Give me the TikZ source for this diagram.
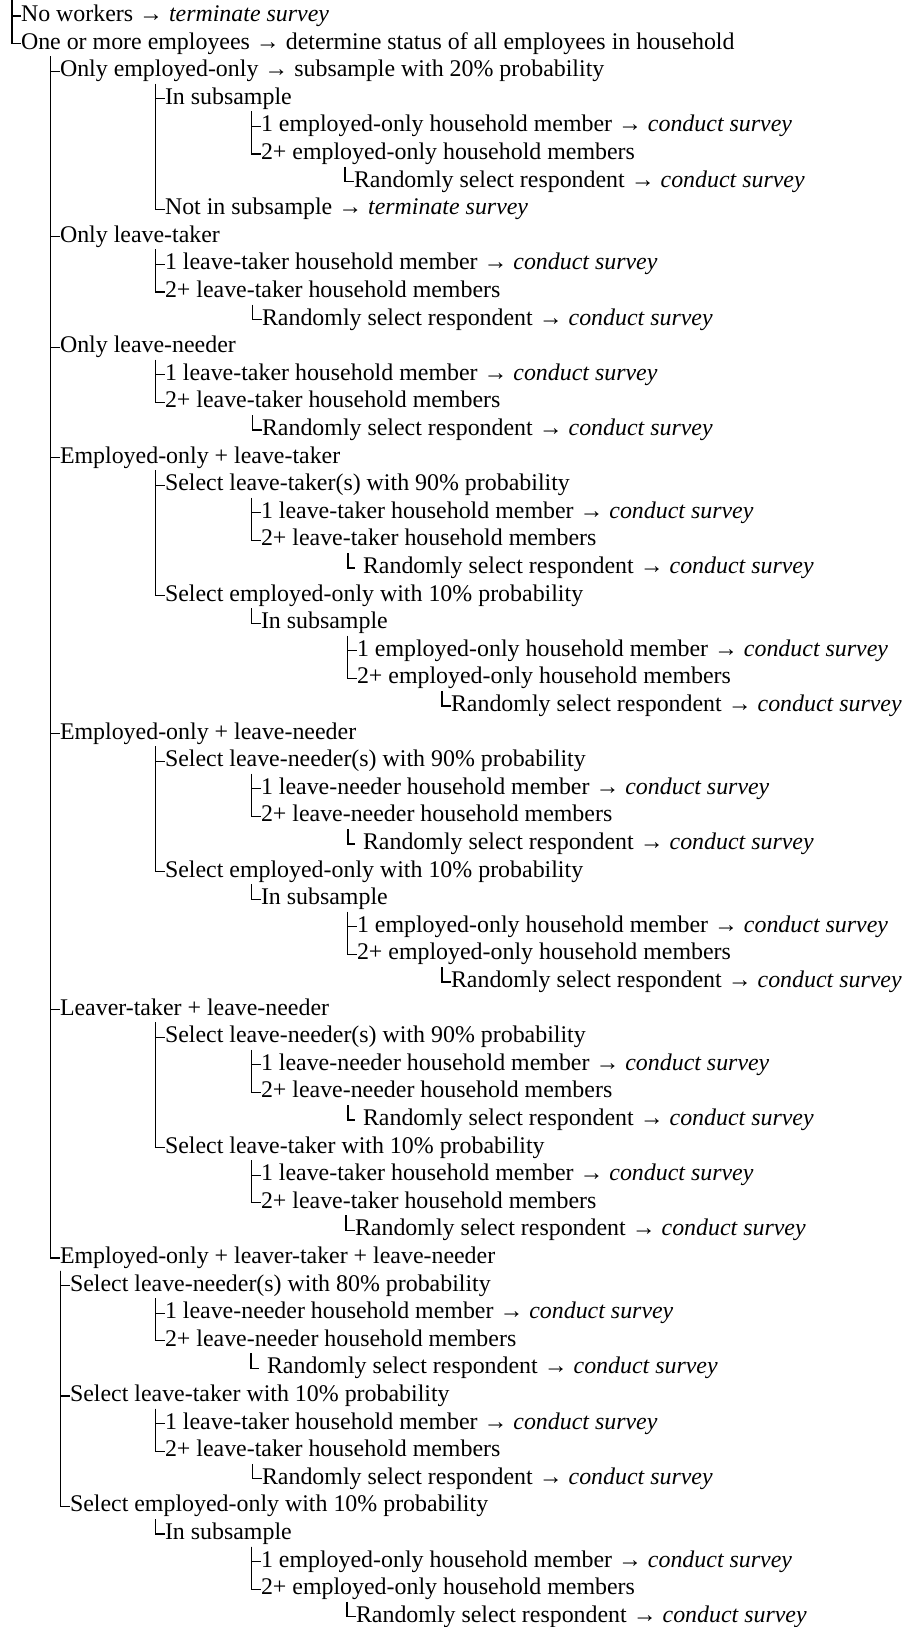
\documentclass[tikz,border=0pt]{standalone}
\usepackage{fontspec}
\setmainfont{Liberation Serif}
\newcommand{\CondS}{\textit{conduct survey}}
\newcommand{\TermS}{\textit{terminate survey}}
\newcommand{\Ar}{→}
\begin{document}
\begin{tikzpicture}[x=1pt,y=-1pt,
  txt/.style={anchor=base west,inner sep=0pt,outer sep=0pt,font=\fontsize{23.9}{28}\selectfont},
  tree/.style={line width=1.3pt,draw=black}]
\fill[white] (0,0) rectangle (907,1627);
\useasboundingbox (0,0) rectangle (907,1627);
% text lines
\node[txt] (n1)  at (21,21.5)   {No workers \Ar{} \TermS};
\node[txt] (n2)  at (21,49.1)   {One or more employees \Ar{} determine status of all employees in household};
\node[txt] (n3)  at (60,76.7)   {Only employed-only \Ar{} subsample with 20\% probability};
\node[txt] (n4)  at (165,104.3) {In subsample};
\node[txt] (n5)  at (261,131.9) {1 employed-only household member \Ar{} \CondS};
\node[txt] (n6)  at (261,159.5) {2+ employed-only household members};
\node[txt] (n7)  at (354,187.1) {Randomly select respondent \Ar{} \CondS};
\node[txt] (n8)  at (165,214.7) {Not in subsample \Ar{} \TermS};
\node[txt] (n9)  at (60,242.3)  {Only leave-taker};
\node[txt] (n10) at (165,269.9) {1 leave-taker household member \Ar{} \CondS};
\node[txt] (n11) at (165,297.5) {2+ leave-taker household members};
\node[txt] (n12) at (262,325.1) {Randomly select respondent \Ar{} \CondS};
\node[txt] (n13) at (60,352.7)  {Only leave-needer};
\node[txt] (n14) at (165,380.3) {1 leave-taker household member \Ar{} \CondS};
\node[txt] (n15) at (165,407.9) {2+ leave-taker household members};
\node[txt] (n16) at (262,435.5) {Randomly select respondent \Ar{} \CondS};
\node[txt] (n17) at (60,463.1)  {Employed-only + leave-taker};
\node[txt] (n18) at (165,490.7) {Select leave-taker(s) with 90\% probability};
\node[txt] (n19) at (261,518.3) {1 leave-taker household member \Ar{} \CondS};
\node[txt] (n20) at (261,545.9) {2+ leave-taker household members};
\node[txt] (n21) at (363,573.5) {Randomly select respondent \Ar{} \CondS};
\node[txt] (n22) at (165,601.1) {Select employed-only with 10\% probability};
\node[txt] (n23) at (261,628.7) {In subsample};
\node[txt] (n24) at (357,656.3) {1 employed-only household member \Ar{} \CondS};
\node[txt] (n25) at (357,683.9) {2+ employed-only household members};
\node[txt] (n26) at (451,711.5) {Randomly select respondent \Ar{} \CondS};
\node[txt] (n27) at (60,739.1)  {Employed-only + leave-needer};
\node[txt] (n28) at (165,766.7) {Select leave-needer(s) with 90\% probability};
\node[txt] (n29) at (261,794.3) {1 leave-needer household member \Ar{} \CondS};
\node[txt] (n30) at (261,821.9) {2+ leave-needer household members};
\node[txt] (n31) at (363,849.5) {Randomly select respondent \Ar{} \CondS};
\node[txt] (n32) at (165,877.1) {Select employed-only with 10\% probability};
\node[txt] (n33) at (261,904.7) {In subsample};
\node[txt] (n34) at (357,932.3) {1 employed-only household member \Ar{} \CondS};
\node[txt] (n35) at (357,959.9) {2+ employed-only household members};
\node[txt] (n36) at (451,987.5) {Randomly select respondent \Ar{} \CondS};
\node[txt] (n37) at (60,1015.1)  {Leaver-taker + leave-needer};
\node[txt] (n38) at (165,1042.7) {Select leave-needer(s) with 90\% probability};
\node[txt] (n39) at (261,1070.3) {1 leave-needer household member \Ar{} \CondS};
\node[txt] (n40) at (261,1097.9) {2+ leave-needer household members};
\node[txt] (n41) at (363,1125.5) {Randomly select respondent \Ar{} \CondS};
\node[txt] (n42) at (165,1153.1) {Select leave-taker with 10\% probability};
\node[txt] (n43) at (261,1180.7) {1 leave-taker household member \Ar{} \CondS};
\node[txt] (n44) at (261,1208.3) {2+ leave-taker household members};
\node[txt] (n45) at (355,1235.9) {Randomly select respondent \Ar{} \CondS};
\node[txt] (n46) at (60,1263.5)  {Employed-only + leaver-taker + leave-needer};
\node[txt] (n47) at (70,1291.1)  {Select leave-needer(s) with 80\% probability};
\node[txt] (n48) at (165,1318.7) {1 leave-needer household member \Ar{} \CondS};
\node[txt] (n49) at (165,1346.3) {2+ leave-needer household members};
\node[txt] (n50) at (267,1373.9) {Randomly select respondent \Ar{} \CondS};
\node[txt] (n51) at (70,1401.5)  {Select leave-taker with 10\% probability};
\node[txt] (n52) at (165,1429.1) {1 leave-taker household member \Ar{} \CondS};
\node[txt] (n53) at (165,1456.7) {2+ leave-taker household members};
\node[txt] (n54) at (262,1484.3) {Randomly select respondent \Ar{} \CondS};
\node[txt] (n55) at (70,1511.9)  {Select employed-only with 10\% probability};
\node[txt] (n56) at (165,1539.5) {In subsample};
\node[txt] (n57) at (261,1567.1) {1 employed-only household member \Ar{} \CondS};
\node[txt] (n58) at (261,1594.7) {2+ employed-only household members};
\node[txt] (n59) at (356,1622.3) {Randomly select respondent \Ar{} \CondS};
% group tops of tree verticals
\coordinate (g0)  at (12,0);
\coordinate (g1)  at (50.5,56.2);
\coordinate (g2)  at (155.5,83.8);
\coordinate (g3)  at (251.5,111.4);
\coordinate (g4)  at (345,166.6);
\coordinate (g5)  at (155.5,249.4);
\coordinate (g6)  at (252.5,304.6);
\coordinate (g7)  at (155.5,359.8);
\coordinate (g8)  at (252.5,415);
\coordinate (g9)  at (155.5,470.2);
\coordinate (g10) at (251.5,497.8);
\coordinate (g11) at (348,553);
\coordinate (g12) at (251.5,608.2);
\coordinate (g13) at (347.5,635.8);
\coordinate (g14) at (442,691);
\coordinate (g15) at (155.5,746.2);
\coordinate (g16) at (251.5,773.8);
\coordinate (g17) at (348,829);
\coordinate (g18) at (251.5,884.2);
\coordinate (g19) at (347.5,911.8);
\coordinate (g20) at (442,967);
\coordinate (g21) at (155.5,1022.2);
\coordinate (g22) at (251.5,1049.8);
\coordinate (g23) at (348,1105);
\coordinate (g24) at (251.5,1160.2);
\coordinate (g25) at (346,1215.4);
\coordinate (g26) at (60.5,1270.6);
\coordinate (g27) at (155.5,1298.2);
\coordinate (g28) at (251,1353.4);
\coordinate (g29) at (155.5,1408.6);
\coordinate (g30) at (252.5,1463.8);
\coordinate (g31) at (155.5,1519);
\coordinate (g32) at (251.5,1546.6);
\coordinate (g33) at (347,1601.8);
% connectors
\foreach \g/\c in {g0/n1,g0/n2,
  g1/n3,g1/n9,g1/n13,g1/n17,g1/n27,g1/n37,g1/n46,
  g2/n4,g2/n8,g3/n5,g3/n6,g4/n7,
  g5/n10,g5/n11,g6/n12,g7/n14,g7/n15,g8/n16,
  g9/n18,g9/n22,g10/n19,g10/n20,g12/n23,g13/n24,g13/n25,g14/n26,
  g15/n28,g15/n32,g16/n29,g16/n30,g18/n33,g19/n34,g19/n35,g20/n36,
  g21/n38,g21/n42,g22/n39,g22/n40,g24/n43,g24/n44,g25/n45,
  g26/n47,g26/n51,g26/n55,g27/n48,g27/n49,g29/n52,g29/n53,g30/n54,
  g31/n56,g32/n57,g32/n58,g33/n59}
  \draw[tree] (\g) |- ([yshift=5.5pt]\c.base west);
\foreach \g/\c in {g11/n21,g17/n31,g23/n41,g28/n50}
  \draw[tree] (\g) |- ([xshift=-8pt,yshift=5.5pt]\c.base west);
\end{tikzpicture}
\end{document}
